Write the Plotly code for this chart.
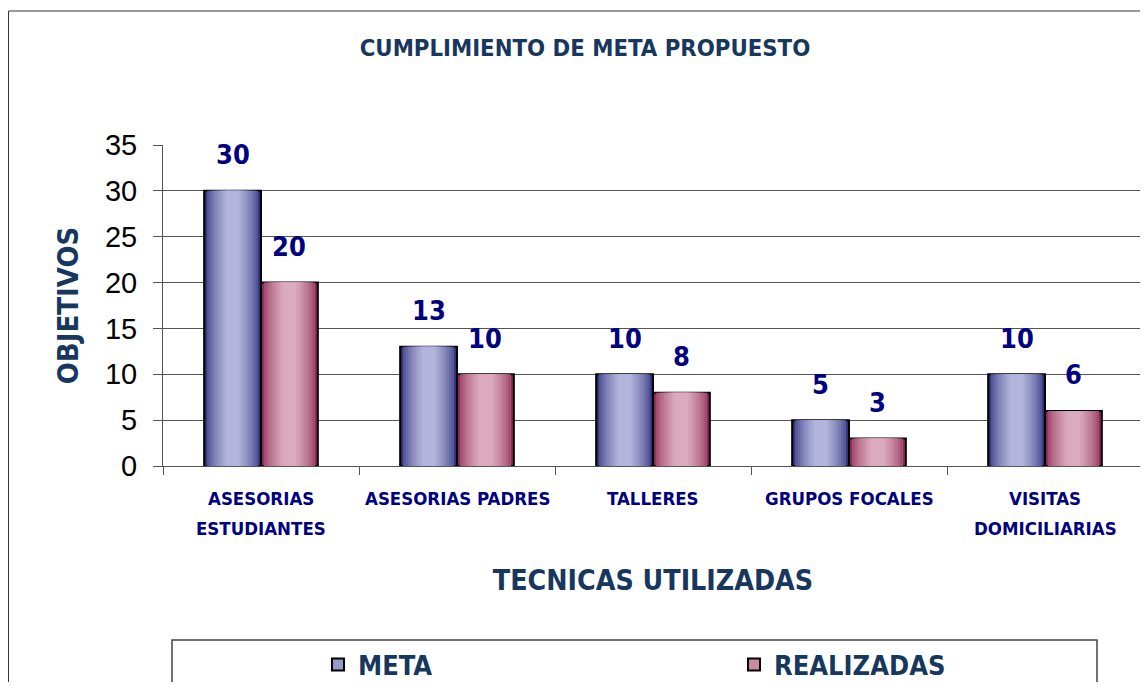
import plotly.graph_objects as go

categories = ["ASESORIAS<br>ESTUDIANTES", "ASESORIAS PADRES", "TALLERES", "GRUPOS FOCALES", "VISITAS<br>DOMICILIARIAS"]
meta = [30, 13, 10, 5, 10]
realizadas = [20, 10, 8, 3, 6]
y_ticks = [0, 5, 10, 15, 20, 25, 30, 35]

NAVY = "#000080"
DARKBLUE = "#17375e"
FONT = "DejaVu Sans Condensed, DejaVu Sans"
BAR_W = 0.29

def mix(c1, c2, t):
    a = [int(c1[i:i + 2], 16) for i in (1, 3, 5)]
    b = [int(c2[i:i + 2], 16) for i in (1, 3, 5)]
    return "#" + "".join(f"{round(a[k] + (b[k] - a[k]) * t):02x}" for k in range(3))

series = [
    ("META", meta, -BAR_W, "#2e3079", "#b2b4dc", "#9799cc", "legend"),
    ("REALIZADAS", realizadas, 0.0, "#8a2953", "#dcaabd", "#c98aa2", "legend2"),
]

# page offset (body margin) and figure geometry, in screen pixels
OFF = 8
W, H = 1148 - OFF, 690 - 2 * OFF
PL, PR, PT, PB = 163, 1143, 145, 466          # plot area on screen
L, R, T, B = PL - OFF, W - (PR - OFF), PT - OFF, H - (PB - OFF)
PW, PH = PR - PL, PB - PT

def px_x(s):
    return (s - PL) / PW

def px_y(s):
    return (PB - s) / PH

fig = go.Figure()
N = 9
for name, vals, off, dark, light, legc, leg in series:
    fig.add_trace(go.Bar(
        x=categories, y=vals, name=name, width=BAR_W, offset=off,
        marker=dict(color=dark, line=dict(color="#000000", width=2)),
        showlegend=False, hoverinfo="skip"))
    for k in range(1, N):
        frac = 1 - k / N * 0.85
        t = (k / (N - 1)) ** 0.6
        w = BAR_W * frac
        fig.add_trace(go.Bar(
            x=categories, y=vals, width=w, offset=off + (BAR_W - w) / 2,
            marker=dict(color=mix(dark, light, t), line=dict(width=0)),
            showlegend=False, hoverinfo="skip"))
    fig.add_trace(go.Bar(
        x=[categories[0]], y=[None], name=name, legend=leg,
        marker=dict(color=legc, line=dict(color="#000000", width=2)),
        showlegend=True))

annotations = []
for name, vals, off, *_ in series:
    for i, v in enumerate(vals):
        annotations.append(dict(
            x=i + off + BAR_W / 2, y=v, xref="x", yref="y",
            text=f"<b>{v}</b>", showarrow=False, yshift=36,
            font=dict(family=FONT, size=27, color=NAVY)))

# category labels (two-line labels with wide line spacing)
for i, cat in enumerate(categories):
    for j, line in enumerate(cat.split("<br>")):
        annotations.append(dict(
            x=i, y=0, xref="x", yref="paper", text=f"<b>{line}</b>",
            showarrow=False, yanchor="middle", yshift=-(498 - PB) - 30 * j,
            font=dict(family=FONT, size=18.5, color=NAVY)))

shapes = [
    dict(type="rect", xref="paper", yref="paper",
         x0=px_x(OFF + 0.5), x1=px_x(1170), y0=px_y(720), y1=px_y(OFF + 3),
         line=dict(color="#333333", width=1), fillcolor="rgba(0,0,0,0)", layer="below"),
    dict(type="rect", xref="paper", yref="paper",
         x0=px_x(172), x1=px_x(1097), y0=px_y(720), y1=px_y(640),
         line=dict(color="#444444", width=1.5), fillcolor="rgba(0,0,0,0)", layer="below"),
]

legfont = dict(family=FONT, size=27, color=DARKBLUE, weight="bold")

fig.update_layout(
    width=W, height=H,
    margin=dict(l=L, r=R, t=T, b=B, autoexpand=False),
    paper_bgcolor="white", plot_bgcolor="white",
    barmode="overlay",
    showlegend=True,
    title=dict(text="<b>CUMPLIMIENTO DE META PROPUESTO</b>", xref="container", yref="container",
               x=(585 - OFF) / W, xanchor="center", y=1 - (48 - OFF) / H, yanchor="middle",
               font=dict(family=FONT, size=23.7, color=DARKBLUE)),
    xaxis=dict(type="category", categoryorder="array", categoryarray=categories,
               range=[-0.5, 4.5], tickson="boundaries", ticks="outside", ticklen=8,
               tickcolor="#555555", showline=True, linecolor="#555555", linewidth=1,
               showgrid=False, showticklabels=False, automargin=False,
               title=dict(text="<b>TECNICAS UTILIZADAS</b>", standoff=104,
                          font=dict(family=FONT, size=28.3, color=DARKBLUE))),
    yaxis=dict(range=[0, 35], tickvals=y_ticks, ticks="outside", ticklen=9,
               tickcolor="#555555", showline=True, linecolor="#555555", linewidth=1,
               showgrid=True, gridcolor="#555555", gridwidth=1, zeroline=False,
               ticklabelstandoff=10, automargin=False,
               tickfont=dict(family="Liberation Sans", size=29, color="#000000"),
               title=dict(text="<b>OBJETIVOS</b>", standoff=17,
                          font=dict(family=FONT, size=29, color=DARKBLUE))),
    legend=dict(orientation="h", x=px_x(318), xanchor="left", y=px_y(665), yanchor="middle",
                bgcolor="rgba(0,0,0,0)", font=legfont),
    legend2=dict(orientation="h", x=px_x(734), xanchor="left", y=px_y(665), yanchor="middle",
                 bgcolor="rgba(0,0,0,0)", font=legfont),
    annotations=annotations,
    shapes=shapes,
)

fig.write_html("out.html")
